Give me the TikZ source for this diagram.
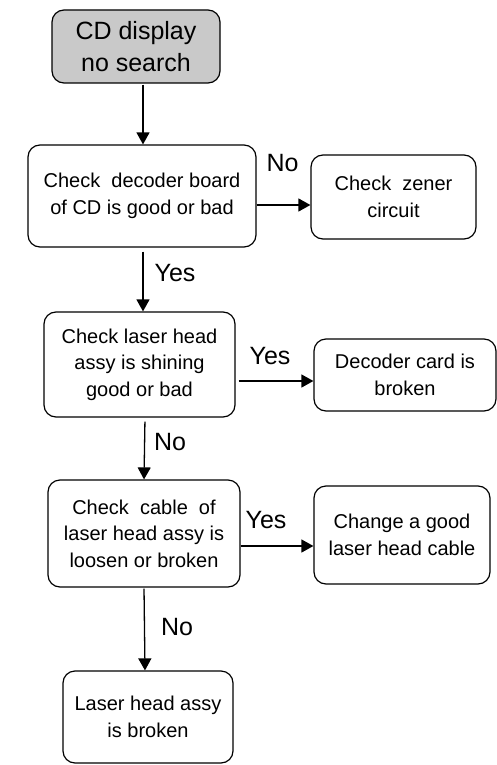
\documentclass[tikz,border=0pt]{standalone}
\usepackage{fontspec}
\setmainfont{Liberation Sans}
\usetikzlibrary{arrows.meta}
\begin{document}
\begin{tikzpicture}[x=1pt,y=-1pt,
  box/.style={draw,line width=1.2pt,rounded corners=12pt,align=center,inner sep=0pt,
    font=\fontsize{20}{26.5}\selectfont},
  lbl/.style={font=\fontsize{25}{30}\selectfont,inner sep=0pt},
  arr/.style={line width=1.3pt,-{Triangle[length=12pt,width=13pt]}}]
\useasboundingbox (0,0) rectangle (496,765);
\node[box,fill=gray!42,minimum width=168pt,minimum height=73pt,font=\fontsize{25}{32}\selectfont] (n1) at (136,46.5) {CD display\\no search};
\node[box,minimum width=228pt,minimum height=102pt] (n2) at (142,196) {Check~ decoder board\\of CD is good or bad};
\node[box,minimum width=165pt,minimum height=84pt] (n3) at (393.5,197) {Check~ zener\\circuit};
\node[box,minimum width=191pt,minimum height=105pt] (n4) at (139.5,364.5) {Check laser head\\assy is shining\\good or bad};
\node[box,minimum width=182pt,minimum height=72pt] (n5) at (405,375) {Decoder card is\\broken};
\node[box,minimum width=192pt,minimum height=107pt] (n6) at (144,533.5) {Check~ cable~ of\\laser head assy is\\loosen or broken};
\node[box,minimum width=176pt,minimum height=98pt] (n7) at (402,535) {Change a good\\laser head cable};
\node[box,minimum width=170pt,minimum height=92pt] (n8) at (148,717) {Laser head assy\\is broken};
\node[lbl] (l1) at (282.5,163.5) {No};
\node[lbl] (l2) at (175,273) {Yes};
\node[lbl] (l3) at (270,356) {Yes};
\node[lbl] (l4) at (170,442) {No};
\node[lbl] (l5) at (266,520) {Yes};
\node[lbl] (l6) at (177,627) {No};
\draw[arr,shorten <=1pt] ([xshift=7pt]n1.south) -- ([xshift=1pt]n2.north);
\draw[arr] ([yshift=-9pt]n2.east) -- ([yshift=-8pt]n3.west);
\draw[arr,shorten <=4pt] ([xshift=1pt]n2.south) -- ([xshift=3.5pt]n4.north);
\draw[arr,shorten <=3pt] ([yshift=-16.5pt]n4.east) -- ([yshift=-6pt]n5.west);
\draw[arr,shorten <=4pt] ([xshift=5.5pt]n4.south) -- (n6.north);
\draw[arr] ([yshift=-12.5pt]n6.east) -- ([yshift=-11pt]n7.west);
\draw[arr,shorten <=1pt] (n6.south) -- ([xshift=-3pt]n8.north);
\end{tikzpicture}
\end{document}
